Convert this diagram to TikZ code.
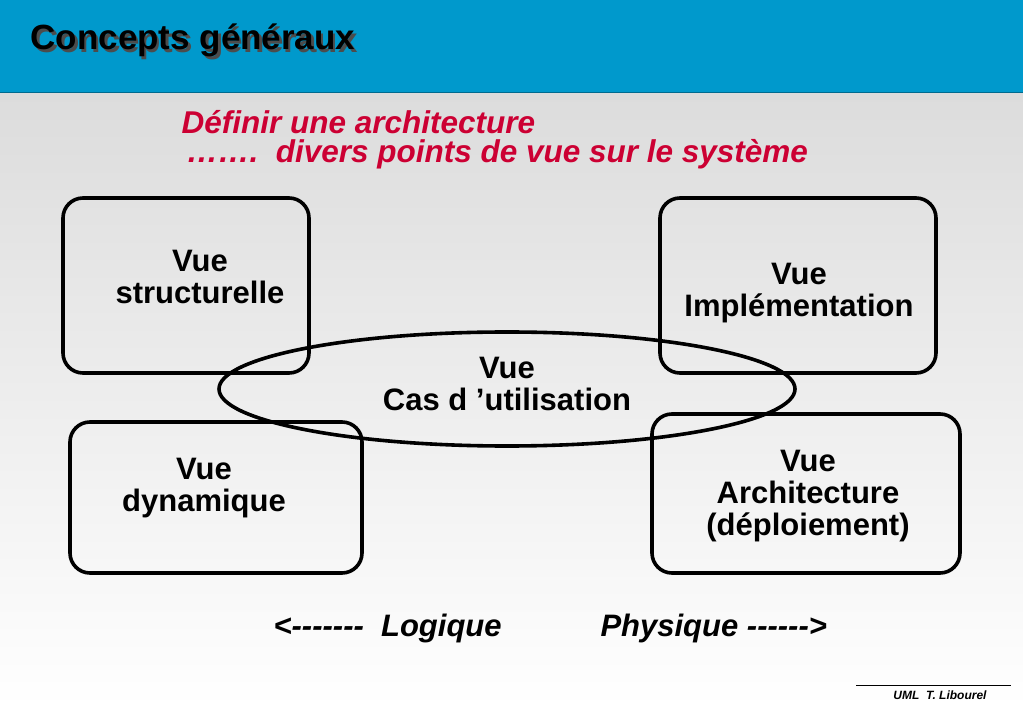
\documentclass[tikz,border=0pt]{standalone}
\usepackage{fontspec}
\setmainfont{Liberation Sans}
\usepackage{tikz}
\usetikzlibrary{shapes.geometric,positioning}
\definecolor{bandeau}{RGB}{0,153,204}
\definecolor{rougetitre}{RGB}{204,0,51}
\definecolor{fondhaut}{RGB}{220,220,220}
\newcommand{\ombretexte}[1]{\makebox[0pt][l]{\hspace{2.5pt}\raisebox{-2.5pt}{\color{gray!60!black}#1}}#1}

\tikzset{
  vuebox/.style={draw, line width=3.6pt, rounded corners=20pt, inner sep=0pt},
  vuetxt/.style={align=center, font=\bfseries\fontsize{31}{32}\selectfont},
  sous/.style={font=\bfseries\itshape\fontsize{31}{32}\selectfont, anchor=west}
}

\begin{document}
\begin{tikzpicture}[x=1pt,y=-1pt]
  % fond et bandeau
  \useasboundingbox (0,0) rectangle (1023,708);
  \shade[top color=fondhaut, bottom color=white] (0,93) rectangle (1023,708);
  \fill[bandeau] (0,0) rectangle (1023,93);
  \draw[bandeau!70!black, line width=1pt] (0,93) -- (1023,93);
  \node[anchor=west, font=\bfseries\fontsize{35}{38}\selectfont] (titre) at (27,42) {\ombretexte{Concepts généraux}};

  % sous-titre
  \node[anchor=west, text=rougetitre, font=\bfseries\itshape\fontsize{31.5}{32}\selectfont] (def) at (178,122) {Définir une architecture};
  \node[anchor=west, text=rougetitre, font=\bfseries\itshape\fontsize{31.5}{32}\selectfont] (pts) at (183,154) {…….\ \ divers points de vue sur le système};

  % les quatre vues
  \node[vuebox, minimum width=246pt, minimum height=175pt] (struct) at (186,285.5) {};
  \node[vuebox, minimum width=276pt, minimum height=175pt] (impl) at (798,285.5) {};
  \node[vuebox, minimum width=292pt, minimum height=151pt] (dyn) at (216,497.5) {};
  \node[vuebox, minimum width=308pt, minimum height=159pt] (archi) at (806,493.5) {};
  \node[draw, ellipse, line width=3.6pt, minimum width=576pt, minimum height=114pt, inner sep=0pt] (cas) at (507,389) {};

  \node[vuetxt] (tstruct) at (200,277) {Vue\\ structurelle};
  \node[vuetxt] (timpl) at (799,293) {Vue\\Implémentation};
  \node[vuetxt] (tdyn) at (204,488) {Vue\\dynamique};
  \node[vuetxt] (tarchi) at (808,496) {Vue\\Architecture\\(déploiement)};
  \node[vuetxt] (tcas) at (507,384) {Vue\\Cas d ’utilisation};

  % logique / physique
  \node[sous] (logique) at (270,628) {<-{}-{}-{}-{}-{}-{}-\ \ Logique};
  \node[sous] (physique) at (597,628) {Physique -{}-{}-{}-{}-{}->};

  % pied de page
  \coordinate (pg) at (856,685);
  \coordinate (pd) at (1011,685);
  \draw[line width=1pt] (pg) -- (pd);
  \node[font=\bfseries\itshape\fontsize{12}{14}\selectfont] (auteur) at (940,695) {UML\ \ T. Libourel};
\end{tikzpicture}
\end{document}
